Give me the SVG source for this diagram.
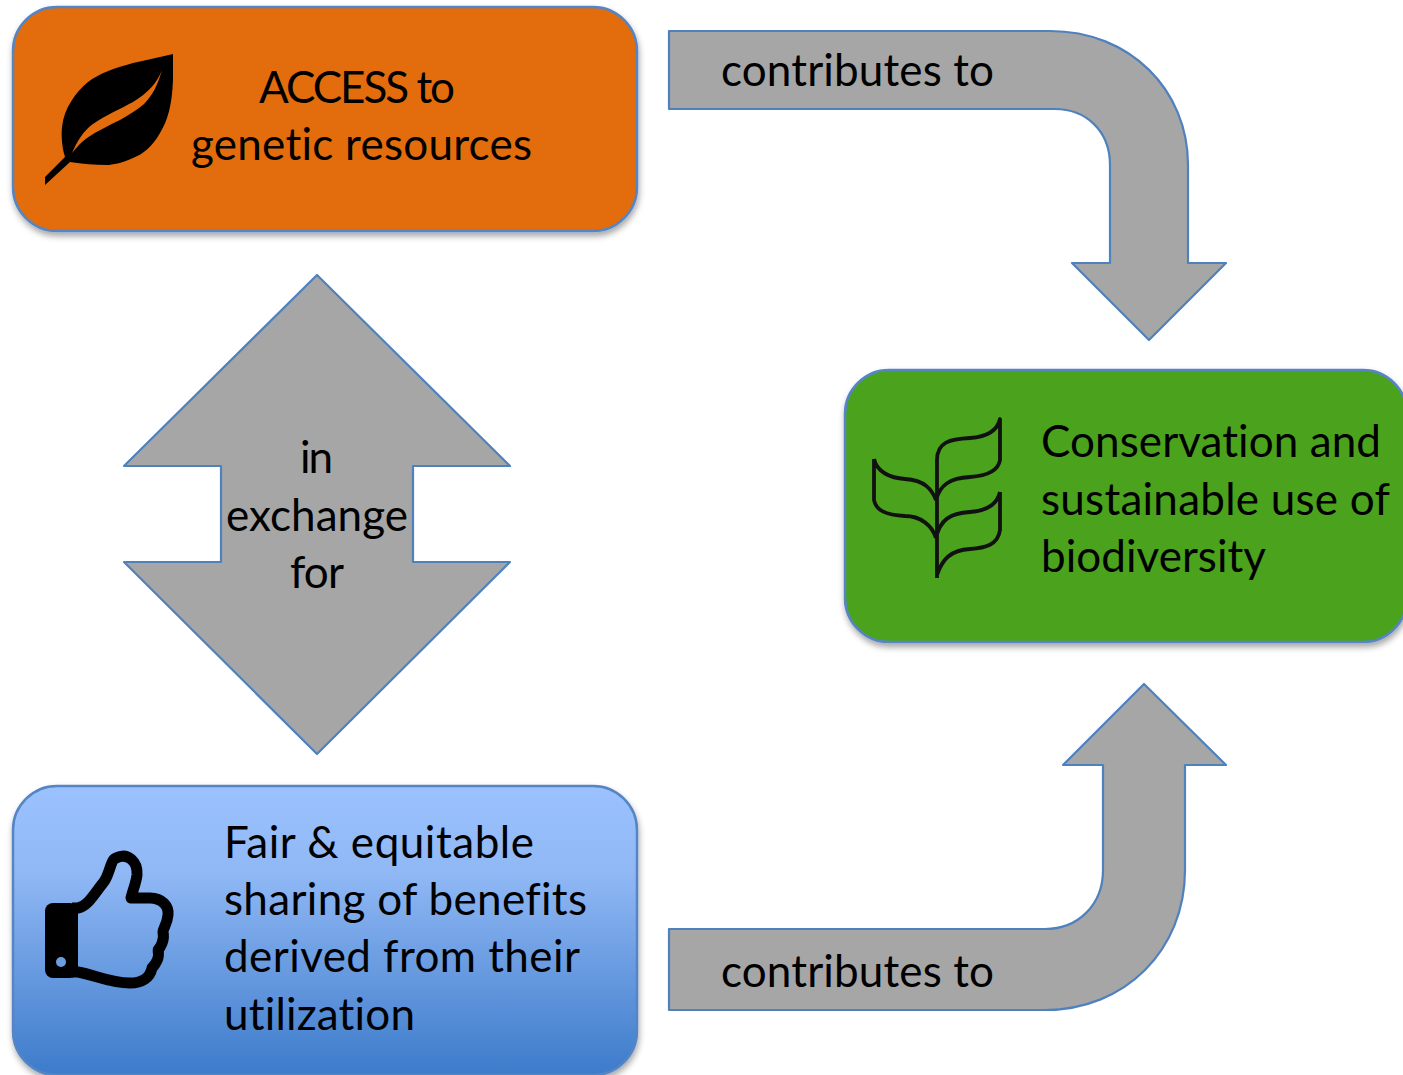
<svg xmlns="http://www.w3.org/2000/svg" width="1403" height="1075" viewBox="0 0 1403 1075">
<style>
.box{stroke:#5585c4;stroke-width:2.5;filter:url(#sh)}
.arrow{fill:#a6a6a6;stroke:#4f81bd;stroke-width:2.2;stroke-linejoin:round}
text{font-family:Lato,"Open Sans",sans-serif;font-size:44px;fill:#000;font-variant-ligatures:none}
.plant{fill:none;stroke:#111;stroke-width:3.8;stroke-linecap:butt;stroke-linejoin:round}
</style>
<defs>
<filter id="sh" x="-5%" y="-5%" width="110%" height="115%"><feDropShadow dx="1" dy="4" stdDeviation="3" flood-color="#000" flood-opacity="0.35"/></filter>
<linearGradient id="blue" x1="0" y1="0" x2="0" y2="1"><stop offset="0" stop-color="#9bc2ff"/><stop offset="0.3" stop-color="#90b8f5"/><stop offset="1" stop-color="#3d7bca"/></linearGradient>
</defs>
<rect width="1403" height="1075" fill="#fff"/>
<g id="connectors">
<path class="arrow" d="M669 31H1050C1130 31 1188 90 1188 165V263H1226L1149 340L1072 263H1110V165C1110 130 1085 109 1055 109H669Z"/>
<path class="arrow" d="M669 929H1045C1078 929 1103 905 1103 870V765H1063L1144 684L1226 765H1185V870C1185 950 1125 1010 1045 1010H669Z"/>
<path class="arrow" d="M317 275L510 466H413V562H510L317 754L124 562H221V466H124Z"/>
<text x="721" y="86" textLength="273">contributes to</text>
<text x="721" y="987" textLength="273">contributes to</text>
<text x="300" y="473" textLength="33">in</text>
<text x="226" y="531" textLength="182">exchange</text>
<text x="290" y="588" textLength="54">for</text>
</g>
<g id="access">
<rect class="box" x="13" y="7" width="624" height="224" rx="44" fill="#e36c0a"/>
<path fill="#000" fill-rule="evenodd" d="M173 54V80C172 105 168 120 160 133C152 147 143 154 133 158C122 163 112 165 107 165C95 165 82 164 70 162L45 185V177L65 157C62 148 61 135 62 127C64 108 76 92 88 82C100 73 115 68 133 63C147 60 160 57 173 54ZM72 153C77 142 83 131 93 124C106 115 120 109 133 102C148 93 157 83 162 70C158 84 153 95 144 104C136 111 128 115 120 120C108 126 97 131 87 138C81 142 77 147 72 153Z"/>
<text x="259" y="103" textLength="196">ACCESS to</text>
<text x="191" y="160" textLength="341">genetic resources</text>
</g>
<g id="conservation">
<rect class="box" x="845" y="370" width="562" height="272" rx="44" fill="#4ba21d"/>
<path class="plant" d="M937 578V460C937 442 950 439 970 438C985 437 997 432 1000 419V460C998 472 985 476 970 477C950 478 940 485 936 500M1000 492C997 505 985 511 970 512C950 513 940 520 936 538M1000 492V530C998 545 985 548 970 549C950 550 942 560 937 575M874 459C877 472 890 478 905 479C925 480 932 490 936 500M874 459V500C876 510 885 515 905 516C920 516 932 525 936 538"/>
<text x="1041" y="457" textLength="340">Conservation and</text>
<text x="1041" y="515" textLength="349">sustainable use of</text>
<text x="1041" y="572" textLength="225">biodiversity</text>
</g>
<g id="sharing">
<rect class="box" x="13" y="786" width="624" height="289" rx="44" fill="url(#blue)"/>
<path fill="none" stroke="#000" stroke-width="11" stroke-linejoin="round" d="M72 908H78C88 906 94 894 103 883C110 875 110 860 116 858C128 852 138 862 137 875C136 884 132 892 131 898H150C162 898 169 906 168 915C167 925 163 928 163 932C165 940 160 948 158 950C160 958 155 965 152 968C150 978 142 983 130 983C110 983 95 975 78 972H72"/>
<rect x="45" y="903" width="33" height="75" rx="8" fill="#000"/>
<circle cx="61" cy="962" r="5" fill="#6d9de0"/>
<text x="224" y="858" textLength="310">Fair &amp; equitable</text>
<text x="224" y="915" textLength="363">sharing of benefits</text>
<text x="224" y="972" textLength="356">derived from their</text>
<text x="224" y="1030" textLength="191">utilization</text>
</g>
</svg>
